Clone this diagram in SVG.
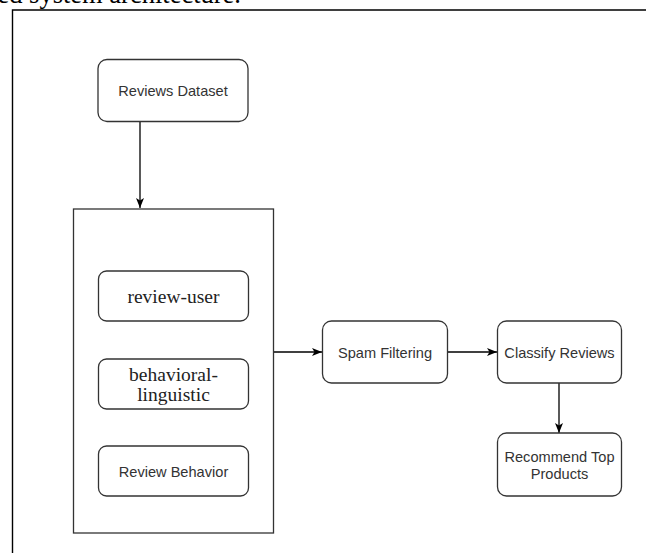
<svg xmlns="http://www.w3.org/2000/svg" width="646" height="553" viewBox="0 0 646 553">
<defs>
<marker id="arr" viewBox="0 0 10 8" refX="10" refY="4" markerWidth="10" markerHeight="8" markerUnits="userSpaceOnUse" orient="auto">
<path d="M0,0 L10,4 L0,8 L2.5,4 Z" fill="#000"/>
</marker>
<style>
.box{fill:#fff;stroke:#333;stroke-width:1.3}
.sans{font-family:"Liberation Sans",Arial,sans-serif;font-size:14.6px;fill:#333;text-anchor:middle}
.serif{font-family:"Liberation Serif","Times New Roman",serif;font-size:19.5px;fill:#222;text-anchor:middle}
.edge{fill:none;stroke:#000;stroke-width:1.3}
</style>
</defs>
<rect width="646" height="553" fill="#fff"/>
<text x="241" y="3" font-family="'Liberation Serif','Times New Roman',serif" font-size="26.5" text-anchor="end" fill="#000">ed system architecture.</text>
<path d="M12.5,553 V10 H646" fill="none" stroke="#000" stroke-width="1.4"/>
<g id="connectors">
<line class="edge" x1="140" y1="122" x2="140" y2="208" marker-end="url(#arr)"/>
<line class="edge" x1="273" y1="352" x2="322" y2="352" marker-end="url(#arr)"/>
<line class="edge" x1="447" y1="352" x2="497" y2="352" marker-end="url(#arr)"/>
<line class="edge" x1="559" y1="383" x2="559" y2="433" marker-end="url(#arr)"/>
</g>
<g id="reviews-dataset">
<rect class="box" x="98" y="59.5" width="150" height="62" rx="9"/>
<text class="sans" x="173" y="96">Reviews Dataset</text>
</g>
<g id="features-container">
<rect class="box" x="73.5" y="209" width="200" height="324"/>
</g>
<g id="review-user">
<rect class="box" x="98.5" y="271" width="150" height="50" rx="8"/>
<text class="serif" x="173.5" y="303">review-user</text>
</g>
<g id="behavioral-linguistic">
<rect class="box" x="98.5" y="359" width="150" height="50" rx="8"/>
<text class="serif" x="173.5" y="381">behavioral-</text>
<text class="serif" x="173.5" y="401">linguistic</text>
</g>
<g id="review-behavior">
<rect class="box" x="98.5" y="446" width="150" height="50" rx="8"/>
<text class="sans" x="173.5" y="477">Review Behavior</text>
</g>
<g id="spam-filtering">
<rect class="box" x="322.5" y="321" width="125" height="62" rx="9"/>
<text class="sans" x="385" y="357.5">Spam Filtering</text>
</g>
<g id="classify-reviews">
<rect class="box" x="497.5" y="321" width="124" height="62" rx="9"/>
<text class="sans" x="559.5" y="357.5">Classify Reviews</text>
</g>
<g id="recommend-top-products">
<rect class="box" x="497.5" y="433" width="124" height="63" rx="9"/>
<text class="sans" x="559.5" y="462">Recommend Top</text>
<text class="sans" x="559.5" y="479">Products</text>
</g>
</svg>
